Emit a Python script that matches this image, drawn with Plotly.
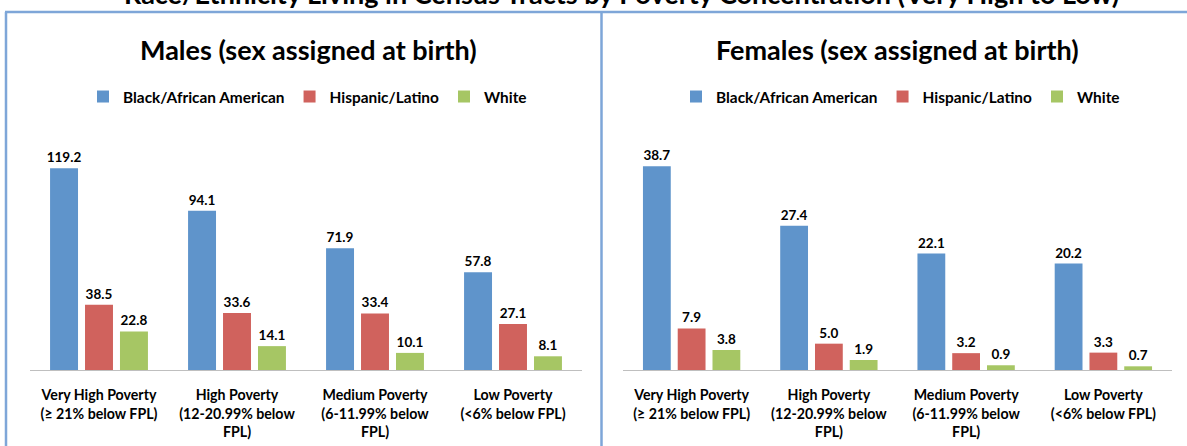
import plotly.graph_objects as go

categories = [
    "Very High Poverty<br>(≥ 21% below FPL)",
    "High Poverty<br>(12-20.99% below<br>FPL)",
    "Medium Poverty<br>(6-11.99% below<br>FPL)",
    "Low Poverty<br>(&lt;6% below FPL)",
]
series_names = ["Black/African American", "Hispanic/Latino", "White"]
males_black = [119.2, 94.1, 71.9, 57.8]
males_hispanic = [38.5, 33.6, 33.4, 27.1]
males_white = [22.8, 14.1, 10.1, 8.1]
females_black = [38.7, 27.4, 22.1, 20.2]
females_hispanic = [7.9, 5.0, 3.2, 3.3]
females_white = [3.8, 1.9, 0.9, 0.7]

main_title = "Race/Ethnicity Living in Census Tracts by Poverty Concentration (Very High to Low)"
left_title = "Males (sex assigned at birth)"
right_title = "Females (sex assigned at birth)"

colors = ["#5F94CB", "#D0625D", "#A6C664"]
FONT = "Lato, 'Open Sans', sans-serif"
W, H = 1187, 446

fig = go.Figure()

def add_panel(vals, xa, ya, legend):
    for name, v, c in zip(series_names, vals, colors):
        fig.add_trace(go.Bar(
            x=categories, y=v, name=name, marker=dict(color=c, line=dict(width=0)),
            xaxis=xa, yaxis=ya, legend=legend,
            text=v, texttemplate="%{y:.1f}", textposition="outside",
            textfont=dict(family=FONT, size=13.5, color="#000000", weight="bold"),
            cliponaxis=False, constraintext="none",
        ))

add_panel([males_black, males_hispanic, males_white], "x", "y", "legend")
add_panel([females_black, females_hispanic, females_white], "x2", "y2", "legend2")

def px_x(p):
    return p / W

def px_y(p):
    return 1 - p / H

plot_top, plot_bot = 133, 370
axis_common = dict(
    showline=True, linecolor="#BFBFBF", linewidth=1, ticks="",
    tickfont=dict(family=FONT, size=14.2, color="#000000", weight="bold"),
    ticklabelstandoff=12,
    showgrid=False, zeroline=False, fixedrange=True, automargin=False,
)
yaxis_common = dict(showticklabels=False, showgrid=False, zeroline=False, showline=False,
                    ticks="", automargin=False, fixedrange=True,
                    domain=[px_y(plot_bot), px_y(plot_top)])

legend_common = dict(
    orientation="h", font=dict(family=FONT, size=15.4, color="#000000", weight="bold"),
    bgcolor="rgba(0,0,0,0)", itemwidth=30, xanchor="left", yanchor="middle",
    xref="paper", yref="paper", tracegroupgap=0,
)

fig.update_layout(
    width=W, height=H,
    margin=dict(l=0, r=0, t=0, b=0, pad=0),
    paper_bgcolor="white", plot_bgcolor="white",
    barmode="group", bargap=0.24, bargroupgap=0.2,
    showlegend=True,
    font=dict(family=FONT, color="#000000"),
    xaxis=dict(domain=[px_x(30), px_x(582)], anchor="y", **axis_common),
    xaxis2=dict(domain=[px_x(623), px_x(1172)], anchor="y2", **axis_common),
    yaxis=dict(range=[0, 140], anchor="x", **yaxis_common),
    yaxis2=dict(range=[0, 45], anchor="x2", **yaxis_common),
    legend=dict(x=px_x(83), y=px_y(97), **legend_common),
    legend2=dict(x=px_x(676), y=px_y(97), **legend_common),
    annotations=[
        dict(text=main_title, xref="paper", yref="paper", x=px_x(621), y=px_y(12.5),
             xanchor="center", yanchor="bottom", showarrow=False,
             font=dict(family=FONT, size=27, color="#000000", weight="bold")),
        dict(text=left_title, xref="paper", yref="paper", x=px_x(309), y=px_y(49.5),
             xanchor="center", yanchor="middle", showarrow=False,
             font=dict(family=FONT, size=27, color="#000000", weight="bold")),
        dict(text=right_title, xref="paper", yref="paper", x=px_x(897.5), y=px_y(49.5),
             xanchor="center", yanchor="middle", showarrow=False,
             font=dict(family=FONT, size=27, color="#000000", weight="bold")),
    ],
    shapes=[
        dict(type="line", xref="paper", yref="paper", x0=px_x(6), x1=px_x(6), y0=px_y(12), y1=px_y(446),
             line=dict(color="#7EA6D8", width=2.5)),
        dict(type="line", xref="paper", yref="paper", x0=px_x(601.5), x1=px_x(601.5), y0=px_y(12), y1=px_y(446),
             line=dict(color="#7EA6D8", width=2.5)),
        dict(type="line", xref="paper", yref="paper", x0=px_x(5), x1=px_x(1187), y0=px_y(12), y1=px_y(12),
             line=dict(color="#7EA6D8", width=2.5)),
    ],
)

fig.write_html(
    "out.html",
    config={"displayModeBar": False},
    post_script="document.body.style.margin='0';document.body.style.overflow='hidden';",
)
